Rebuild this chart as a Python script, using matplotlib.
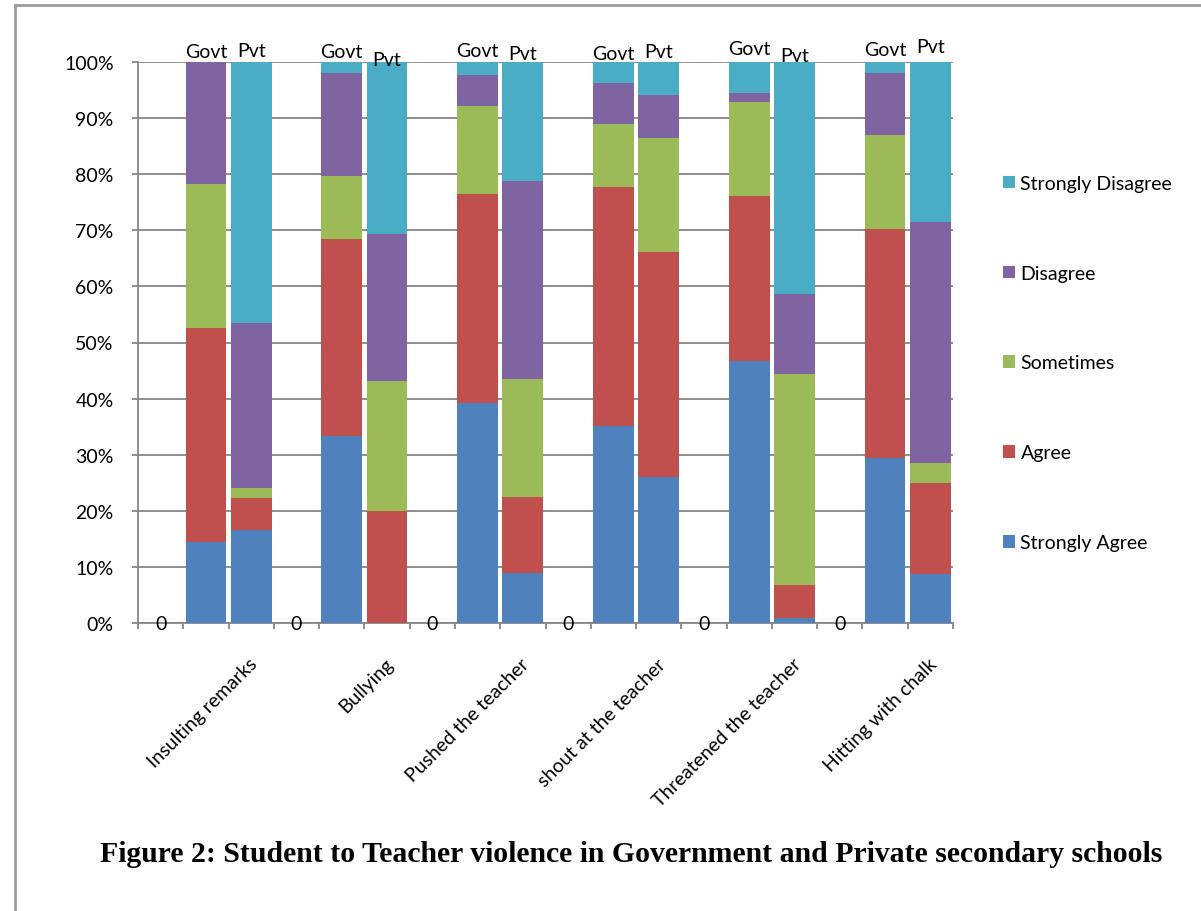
import matplotlib
matplotlib.use("Agg")
import matplotlib.pyplot as plt
from matplotlib.patches import Rectangle
import matplotlib.transforms as mtransforms
import numpy as np

categories = ["Insulting remarks", "Bullying", "Pushed the teacher",
              "shout at the teacher", "Threatened the teacher", "Hitting with chalk"]
series_names = ["Strongly Agree", "Agree", "Sometimes", "Disagree", "Strongly Disagree"]
colors = ["#4F81BD", "#C0504D", "#9BBB59", "#8064A2", "#4BACC6"]

# Govt values (%)
govt_strongly_agree = [14.4, 33.3, 39.2, 35.2, 46.7, 29.5]
govt_agree = [38.2, 35.1, 37.3, 42.6, 29.5, 40.7]
govt_sometimes = [25.6, 11.2, 15.7, 11.1, 16.7, 16.8]
govt_disagree = [21.8, 18.5, 5.5, 7.4, 1.5, 11.1]
govt_strongly_disagree = [0.0, 1.9, 2.3, 3.7, 5.6, 1.9]

# Pvt values (%)
pvt_strongly_agree = [16.6, 0.0, 8.9, 26.0, 0.9, 8.8]
pvt_agree = [5.6, 20.0, 13.6, 40.2, 5.8, 16.1]
pvt_sometimes = [1.8, 23.1, 21.0, 20.2, 37.7, 3.6]
pvt_disagree = [29.5, 26.3, 35.3, 7.7, 14.2, 42.9]
pvt_strongly_disagree = [46.5, 30.6, 21.2, 5.9, 41.4, 28.6]

# empty placeholder series shown as "0"
placeholder = [0, 0, 0, 0, 0, 0]
group_labels = ["Govt", "Pvt"]
yticks = [0, 10, 20, 30, 40, 50, 60, 70, 80, 90, 100]

govt = [govt_strongly_agree, govt_agree, govt_sometimes, govt_disagree, govt_strongly_disagree]
pvt = [pvt_strongly_agree, pvt_agree, pvt_sometimes, pvt_disagree, pvt_strongly_disagree]

FONT = "Lato"
FS = 14
plt.rcParams["font.family"] = [FONT, "DejaVu Sans"]

fig = plt.figure(figsize=(12.01, 9.12), dpi=100)
ax = fig.add_axes([138 / 1201, 1 - 624 / 912, (953 - 138) / 1201, (624 - 63) / 912])

n = len(categories)
x0 = np.arange(n) * 3 + 0.5
xg = x0 + 1
xp = x0 + 2
w = 0.9

bottom_g = np.zeros(n)
bottom_p = np.zeros(n)
handles = []
for vals_g, vals_p, name, c in zip(govt, pvt, series_names, colors):
    vg = np.array(vals_g)
    vp = np.array(vals_p)
    hb = ax.bar(xg, vg, w, bottom=bottom_g, color=c, edgecolor="none", label=name, zorder=3)
    ax.bar(xp, vp, w, bottom=bottom_p, color=c, edgecolor="none", zorder=3)
    bottom_g += vg
    bottom_p += vp
    handles.append(hb)

zc = ax.bar(x0, placeholder, w, color="none", zorder=3)
ax.bar_label(zc, labels=[f"{v:g}" for v in placeholder], label_type="center",
             fontsize=FS, color="black", zorder=5)

# vertical pixel offsets of the hand-placed Govt / Pvt labels
govt_dy = [5, 5, 6, 3, 8, 7]
pvt_dy = [6, -3, 3, 5, 1, 10]
for i in range(n):
    ax.annotate(group_labels[0], xy=(xg[i], bottom_g[i]), xytext=(0, govt_dy[i]),
                textcoords="offset pixels", ha="center", va="baseline", fontsize=FS)
    ax.annotate(group_labels[1], xy=(xp[i], bottom_p[i]), xytext=(0, pvt_dy[i]),
                textcoords="offset pixels", ha="center", va="baseline", fontsize=FS)

ax.set_xlim(0, 3 * n)
ax.set_ylim(0, 100)
ax.set_yticks(yticks)
ax.set_yticklabels([f"{t}%" for t in yticks], fontsize=FS)
ax.yaxis.grid(True, color="#868686", linewidth=1.3, zorder=0)
ax.set_axisbelow(True)

ax.set_xticks(np.arange(0, 3 * n + 1))
ax.set_xticklabels([])
ax.set_xticks(x0 + 1, minor=True)
ax.set_xticklabels(categories, minor=True, rotation=45, ha="right", va="top",
                   rotation_mode="anchor", fontsize=FS)
ax.tick_params(axis="x", which="major", direction="out", length=4.5, color="#868686", width=1.3)
ax.tick_params(axis="x", which="minor", length=0, pad=23)
ax.tick_params(axis="y", direction="out", length=4.5, color="#868686", width=1.3, pad=13)
offset = mtransforms.ScaledTranslation(0.43, 0, fig.dpi_scale_trans)
for lab in ax.get_xticklabels(minor=True):
    lab.set_transform(lab.get_transform() + offset)

for s in ["top", "right"]:
    ax.spines[s].set_visible(False)
for s in ["left", "bottom"]:
    ax.spines[s].set_color("#868686")
    ax.spines[s].set_linewidth(1.3)

leg = fig.legend(handles[::-1], series_names[::-1], loc="center left",
                 bbox_to_anchor=(1003 / 1201, 1 - 364 / 912), frameon=False,
                 fontsize=FS, handlelength=0.6, handleheight=0.6, handletextpad=0.3,
                 labelspacing=3.75, borderaxespad=0, borderpad=0)

fig.text(100 / 1201, 1 - 855 / 912,
         "Figure 2: Student to Teacher violence in Government and Private secondary schools",
         family=["Liberation Serif", "DejaVu Serif"], fontweight="bold", fontsize=21.4,
         ha="left", va="center")

fig.patches.append(Rectangle((15 / 1201, -0.1), 1.2, 1 - 6 / 912 + 0.1,
                             transform=fig.transFigure, fill=False,
                             edgecolor="#9a9a9a", linewidth=2))

fig.savefig("out.png", dpi=100)
